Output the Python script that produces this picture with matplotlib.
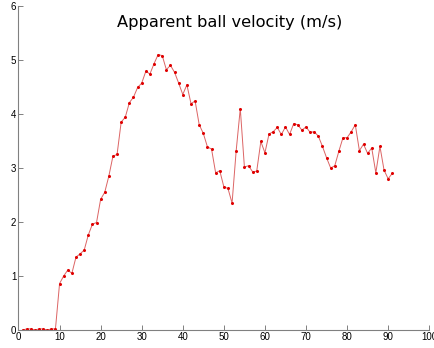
import matplotlib
matplotlib.use("Agg")
import matplotlib.pyplot as plt

# frame index and apparent ball velocity (m/s)
frames = list(range(1, 92))
velocity = [
    0.00, 0.02, 0.02, 0.00, 0.02, 0.02, 0.00, 0.02, 0.02,
    0.86, 1.00, 1.11, 1.05, 1.35, 1.41, 1.48, 1.76, 1.96, 1.99, 2.42,
    2.55, 2.85, 3.22, 3.25, 3.85, 3.94, 4.21, 4.31, 4.49, 4.57,
    4.79, 4.74, 4.93, 5.10, 5.08, 4.82, 4.90, 4.77, 4.57, 4.36,
    4.54, 4.19, 4.24, 3.80, 3.64, 3.39, 3.35, 2.91, 2.95, 2.65,
    2.62, 2.35, 3.32, 4.10, 3.02, 3.04, 2.93, 2.94, 3.49, 3.28,
    3.63, 3.67, 3.75, 3.62, 3.76, 3.62, 3.82, 3.80, 3.70, 3.76,
    3.66, 3.67, 3.59, 3.40, 3.19, 3.00, 3.04, 3.31, 3.56, 3.56,
    3.67, 3.80, 3.32, 3.44, 3.27, 3.37, 2.91, 3.40, 2.96, 2.80,
    2.90,
]
x_ticks = [0, 10, 20, 30, 40, 50, 60, 70, 80, 90, 100]
y_ticks = [0, 1, 2, 3, 4, 5, 6]

fig = plt.figure(figsize=(4.34, 3.48), dpi=100)
ax = fig.add_axes([0.0426, 0.0517, 0.9464, 0.9313])

ax.plot(frames, velocity, color='#dc6464', lw=0.7, marker='o', ms=1.2,
        mfc='#e00000', mec='#e00000')

ax.set_xlim(0, 100)
ax.set_ylim(0, 6)
ax.set_xticks(x_ticks)
ax.set_yticks(y_ticks)
for s in ['top', 'right']:
    ax.spines[s].set_visible(False)
for s in ['left', 'bottom']:
    ax.spines[s].set_color('#808080')
    ax.spines[s].set_linewidth(0.8)
ax.tick_params(direction='in', length=3.5, width=0.7, color='#808080',
               labelsize=7, pad=1.5)
for lab in ax.get_xticklabels() + ax.get_yticklabels():
    lab.set_family('Liberation Sans')

fig.text(0.528, 0.934, 'Apparent ball velocity (m/s)', ha='center', va='center',
         fontsize=11.7, family='DejaVu Sans')

fig.savefig('out.png', dpi=100)
